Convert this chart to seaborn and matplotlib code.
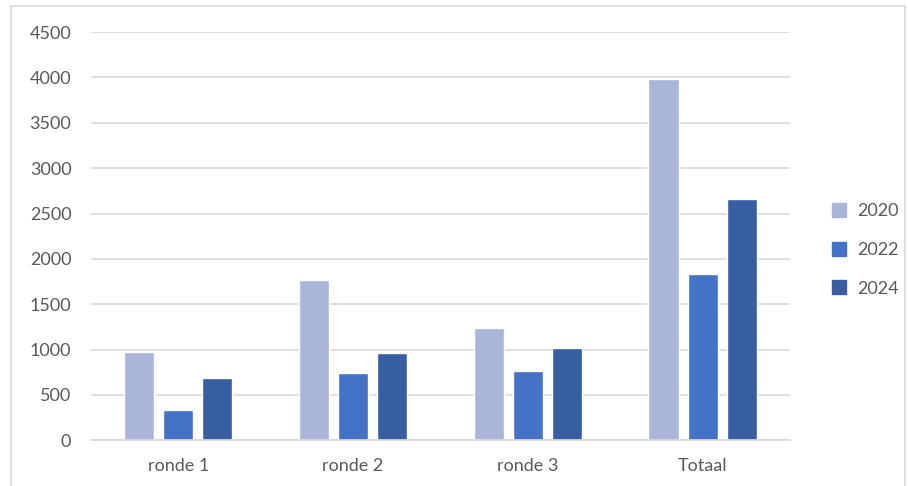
import matplotlib
matplotlib.use("Agg")
import matplotlib.pyplot as plt
import pandas as pd
import seaborn as sns
from matplotlib.patches import Rectangle

# data
categories = ["ronde 1", "ronde 2", "ronde 3", "Totaal"]
years = ["2020", "2022", "2024"]
values_2020 = [970, 1765, 1240, 3980]
values_2022 = [330, 745, 760, 1830]
values_2024 = [685, 960, 1020, 2665]
yticks = [0, 500, 1000, 1500, 2000, 2500, 3000, 3500, 4000, 4500]

colors = ["#A9B6DA", "#4472C4", "#365EA0"]
text_color = "#595959"
grid_color = "#D9D9D9"

df = pd.DataFrame({
    "categorie": categories * 3,
    "jaar": [y for y in years for _ in categories],
    "waarde": values_2020 + values_2022 + values_2024,
})

sns.set_theme(style="white")
plt.rcParams["font.family"] = ["Lato", "DejaVu Sans"]

fig = plt.figure(figsize=(9.08, 4.86), dpi=100)
ax = fig.add_axes([0.100, 0.094, 0.770, 0.840])

sns.barplot(data=df, x="categorie", y="waarde", hue="jaar", palette=colors,
            width=0.67, gap=0.23, ax=ax, legend=False, saturation=1)

ax.set_ylim(0, 4500)
ax.set_yticks(yticks)
ax.set_yticklabels([str(t) for t in yticks])
ax.set_xlim(-0.5, len(categories) - 0.5)
ax.set_xlabel("")
ax.set_ylabel("")
ax.yaxis.grid(True, color=grid_color, linewidth=1.2)
ax.set_axisbelow(True)
for side in ["top", "right", "left"]:
    ax.spines[side].set_visible(False)
ax.spines["bottom"].set_color(grid_color)
ax.spines["bottom"].set_linewidth(1.2)
ax.tick_params(axis="both", length=0, labelsize=13, colors=text_color)
ax.tick_params(axis="y", pad=14)
ax.tick_params(axis="x", pad=13)

handles = [Rectangle((0, 0), 1, 1, color=c) for c in colors]
fig.legend(handles, years, loc="center left", bbox_to_anchor=(0.898, 0.486),
           frameon=False, fontsize=13, labelcolor=text_color,
           handlelength=0.8, handleheight=0.8, handletextpad=0.6,
           labelspacing=1.25)

# light frame around the chart
fig.patches.append(Rectangle((0.012, -0.01), 0.985, 0.998, transform=fig.transFigure,
                             fill=False, edgecolor=grid_color, linewidth=1.2))

fig.savefig("out.png", dpi=100)
